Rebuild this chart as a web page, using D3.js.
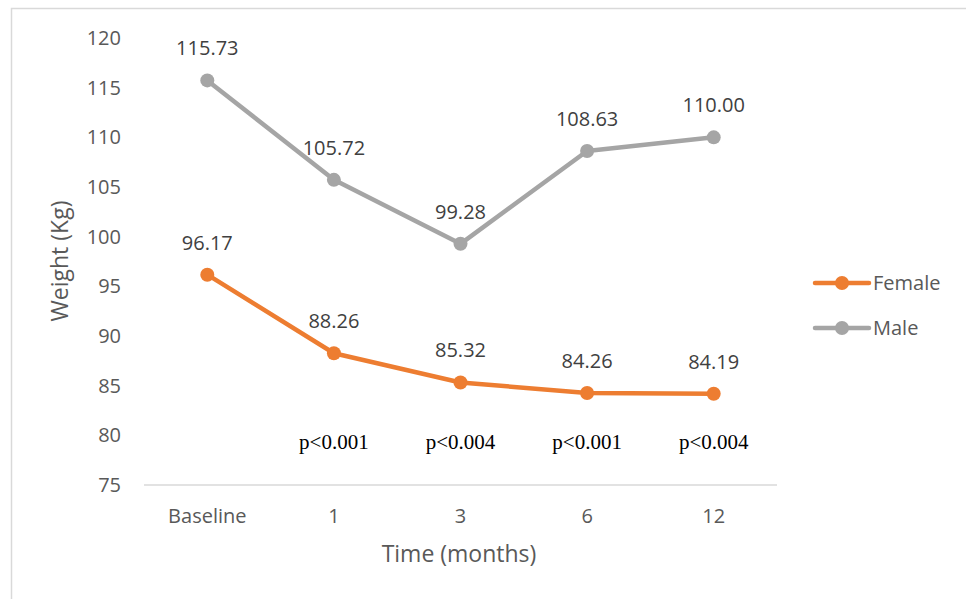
<!DOCTYPE html>
<html><head><meta charset="utf-8">
<script src="https://cdn.jsdelivr.net/npm/d3@7"></script>
<style>body{margin:0;background:#fff}svg{display:block}</style>
</head><body>
<svg id="c" width="966" height="599"></svg>
<script>
const categories = ["Baseline", "1", "3", "6", "12"];
const female = [96.17, 88.26, 85.32, 84.26, 84.19];
const male = [115.73, 105.72, 99.28, 108.63, 110.00];
const pValues = ["", "p<0.001", "p<0.004", "p<0.001", "p<0.004"];
const yTicks = [75, 80, 85, 90, 95, 100, 105, 110, 115, 120];
const seriesNames = ["Female", "Male"];
const colors = ["#ED7D31", "#A5A5A5"];

const svg = d3.select("#c");
const font = "'Open Sans', sans-serif";
// frame
svg.append("path").attr("d","M11.5,620 L11.5,8.5 L970,8.5").attr("fill","none").attr("stroke","#d9d9d9").attr("stroke-width",1.5);

const x = d3.scaleBand().domain(categories).range([144, 777]);
const y = d3.scaleLinear().domain([75, 120]).range([485, 38]);

// x axis line
svg.append("line").attr("x1",144).attr("x2",777).attr("y1",y(75)).attr("y2",y(75)).attr("stroke","#d9d9d9").attr("stroke-width",1.5);

// y ticks
const yAxis = d3.axisLeft(y).tickValues(yTicks).tickSize(0).tickPadding(0);
const gy = svg.append("g").attr("transform","translate(121,0)").call(yAxis);
gy.select(".domain").remove();
gy.selectAll("text").attr("font-family",font).attr("font-size",20).attr("fill","#595959");

// x ticks
const xAxis = d3.axisBottom(x).tickSize(0).tickPadding(0);
const gx = svg.append("g").attr("transform","translate(0,509)").call(xAxis);
gx.select(".domain").remove();
gx.selectAll("text").attr("font-family",font).attr("font-size",20).attr("fill","#595959");

// titles
svg.append("text").attr("x",459).attr("y",562).attr("text-anchor","middle").attr("font-family",font).attr("font-size",23).attr("fill","#595959").text("Time (months)");
svg.append("text").attr("transform","translate(68,261) rotate(-90)").attr("text-anchor","middle").attr("font-family",font).attr("font-size",23).attr("fill","#595959").text("Weight (Kg)");

const cx = d => x(d) + x.bandwidth()/2;
const line = d3.line().x((d,i)=>cx(categories[i])).y(d=>y(d));
[female, male].forEach((s, k) => {
  svg.append("path").datum(s).attr("d", line).attr("fill","none").attr("stroke",colors[k]).attr("stroke-width",4.5).attr("stroke-linejoin","round").attr("stroke-linecap","round");
  svg.selectAll(null).data(s).enter().append("circle").attr("cx",(d,i)=>cx(categories[i])).attr("cy",d=>y(d)).attr("r",7).attr("fill",colors[k]);
  svg.selectAll(null).data(s).enter().append("text").attr("x",(d,i)=>cx(categories[i])).attr("y",d=>y(d)-25)
    .attr("text-anchor","middle").attr("font-family",font).attr("font-size",20).attr("fill","#404040").text(d=>d.toFixed(2));
});

// p values
svg.selectAll(null).data(pValues).enter().append("text").attr("x",(d,i)=>cx(categories[i])).attr("y",449)
  .attr("text-anchor","middle").attr("font-family","'Liberation Serif','Times New Roman',serif").attr("font-size",21).attr("fill","#000").text(d=>d);

// legend
seriesNames.forEach((n,k)=>{
  const ly = 283 + k*45;
  svg.append("line").attr("x1",815).attr("x2",869).attr("y1",ly).attr("y2",ly).attr("stroke",colors[k]).attr("stroke-width",4.5).attr("stroke-linecap","round");
  svg.append("circle").attr("cx",842).attr("cy",ly).attr("r",7).attr("fill",colors[k]);
  svg.append("text").attr("x",873).attr("y",ly+7).attr("font-family",font).attr("font-size",20).attr("fill","#595959").text(n);
});
</script>
</body></html>
